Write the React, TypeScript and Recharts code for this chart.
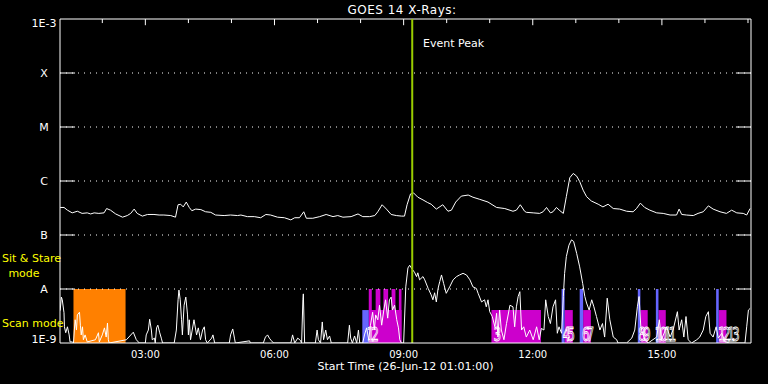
import {
  ComposedChart,
  Line,
  XAxis,
  YAxis,
  ReferenceLine,
  ReferenceArea,
  ReferenceDot,
} from "recharts";

const W = 768;
const H = 384;

// time axis in decimal hours, 26-Jun-12 01:01 .. ~17:04
const X_START = 1.017;
const X_END = 17.07;
const LABEL_TICKS = [3, 6, 9, 12, 15];
const HOUR_TICKS = [2, 4, 5, 7, 8, 10, 11, 13, 14, 16, 17];
const EVENT_PEAK = 9.2;

// flux axis in log10(W/m^2)
const LEVELS = [-9, -8, -7, -6, -5, -4, -3];
const LEVEL_NAMES: Record<number, string> = {
  [-9]: "1E-9",
  [-8]: "A",
  [-7]: "B",
  [-6]: "C",
  [-5]: "M",
  [-4]: "X",
  [-3]: "1E-3",
};
const GRID_LEVELS = [-8, -7, -6, -5, -4];

// 1-8 A channel [hour, log flux]
const LONG_CHANNEL: [number, number][] = [
  [1.02, -6.49], [1.11, -6.49], [1.19, -6.54], [1.3, -6.59], [1.42, -6.56], [1.53, -6.6],
  [1.65, -6.59], [1.73, -6.61], [1.81, -6.59], [1.92, -6.6], [2.04, -6.59], [2.1, -6.51],
  [2.19, -6.54], [2.31, -6.61], [2.47, -6.67], [2.58, -6.64], [2.66, -6.6], [2.74, -6.52],
  [2.81, -6.6], [2.93, -6.65], [3.05, -6.62], [3.2, -6.62], [3.32, -6.63], [3.43, -6.63],
  [3.59, -6.64], [3.7, -6.67], [3.76, -6.44], [3.82, -6.43], [3.88, -6.48], [3.95, -6.39],
  [4.02, -6.49], [4.08, -6.55], [4.17, -6.52], [4.29, -6.53], [4.4, -6.57], [4.52, -6.58],
  [4.63, -6.63], [4.83, -6.64], [4.98, -6.63], [5.14, -6.64], [5.22, -6.63], [5.37, -6.66],
  [5.53, -6.66], [5.68, -6.68], [5.8, -6.62], [5.91, -6.63], [6.07, -6.67], [6.23, -6.68],
  [6.38, -6.72], [6.47, -6.68], [6.58, -6.68], [6.68, -6.57], [6.74, -6.69], [6.89, -6.69],
  [7.05, -6.66], [7.2, -6.62], [7.36, -6.66], [7.47, -6.64], [7.59, -6.67], [7.78, -6.66],
  [7.94, -6.61], [8.05, -6.66], [8.21, -6.66], [8.33, -6.64], [8.4, -6.57], [8.5, -6.44],
  [8.6, -6.52], [8.71, -6.62], [8.83, -6.64], [8.95, -6.65], [9.02, -6.65], [9.08, -6.44],
  [9.16, -6.24], [9.23, -6.22], [9.33, -6.3], [9.45, -6.35], [9.56, -6.4], [9.64, -6.43],
  [9.76, -6.52], [9.91, -6.44], [10.03, -6.56], [10.11, -6.54], [10.21, -6.39], [10.34, -6.28],
  [10.5, -6.26], [10.61, -6.3], [10.77, -6.34], [10.96, -6.39], [11.16, -6.49], [11.35, -6.51],
  [11.54, -6.56], [11.62, -6.54], [11.71, -6.44], [11.81, -6.56], [11.85, -6.58], [12.01, -6.59],
  [12.16, -6.6], [12.24, -6.57], [12.32, -6.49], [12.41, -6.59], [12.47, -6.57], [12.55, -6.49],
  [12.63, -6.55], [12.71, -6.6], [12.78, -6.29], [12.86, -5.94], [12.94, -5.86], [13.02, -5.91],
  [13.09, -6.01], [13.17, -6.17], [13.25, -6.29], [13.36, -6.37], [13.52, -6.43], [13.63, -6.48],
  [13.75, -6.43], [13.87, -6.51], [14.02, -6.52], [14.18, -6.56], [14.33, -6.57], [14.41, -6.51],
  [14.5, -6.41], [14.6, -6.49], [14.72, -6.54], [14.88, -6.59], [15.03, -6.6], [15.19, -6.63],
  [15.34, -6.63], [15.4, -6.52], [15.46, -6.62], [15.57, -6.63], [15.73, -6.64], [15.84, -6.6],
  [15.96, -6.57], [16.08, -6.46], [16.19, -6.52], [16.35, -6.57], [16.5, -6.6], [16.62, -6.54],
  [16.74, -6.59], [16.89, -6.6], [16.97, -6.63], [17.05, -6.51],
];

// 0.5-4 A channel [hour, log flux], -9 = below the plot floor
const SHORT_CHANNEL: [number, number][] = [
  [1.02, -8.4], [1.05, -8.15], [1.07, -8.2], [1.11, -8.44], [1.12, -8.7], [1.15, -8.81],
  [1.19, -8.7], [1.23, -8.85], [1.25, -8.98], [1.3, -8.98], [1.33, -9], [1.35, -8.76],
  [1.37, -8.57], [1.4, -8.76], [1.42, -8.48], [1.47, -8.43], [1.49, -8.67], [1.51, -8.85],
  [1.54, -8.7], [1.56, -8.94], [1.6, -8.85], [1.65, -8.98], [1.84, -8.94], [1.91, -8.81],
  [1.93, -8.98], [2.0, -8.85], [2.05, -8.72], [2.09, -8.89], [2.12, -8.63], [2.14, -8.94],
  [2.16, -9], [2.56, -8.94], [2.72, -8.8], [2.79, -8.94], [2.86, -9], [3.0, -9],
  [3.02, -8.85], [3.07, -8.76], [3.1, -8.56], [3.14, -8.76], [3.16, -8.94], [3.21, -8.91],
  [3.23, -9], [3.26, -8.72], [3.29, -8.67], [3.33, -8.8], [3.37, -8.91], [3.4, -9],
  [3.67, -9], [3.72, -8.76], [3.76, -8.2], [3.78, -8.02], [3.81, -8.2], [3.84, -8.57],
  [3.86, -8.85], [3.9, -8.3], [3.94, -8.15], [3.98, -8.48], [4.0, -8.85], [4.02, -8.57],
  [4.05, -8.94], [4.13, -8.57], [4.19, -8.85], [4.23, -8.72], [4.28, -8.94], [4.33, -8.76],
  [4.37, -8.7], [4.4, -8.94], [4.44, -9], [4.54, -8.91], [4.57, -8.85], [4.61, -9],
  [4.95, -9], [4.98, -8.85], [5.03, -8.74], [5.07, -8.91], [5.09, -9], [5.42, -8.96],
  [5.44, -9], [5.74, -9], [5.79, -8.89], [5.84, -8.85], [5.88, -8.91], [5.93, -8.96],
  [5.98, -9], [6.38, -9], [6.42, -8.85], [6.47, -9], [6.54, -8.91], [6.6, -8.95],
  [6.63, -9], [6.66, -8.2], [6.67, -8.09], [6.7, -9], [6.95, -9], [6.99, -8.76],
  [7.02, -8.94], [7.07, -9], [7.11, -8.61], [7.14, -8.94], [7.19, -8.76], [7.23, -8.94],
  [7.28, -8.87], [7.32, -9], [7.7, -9], [7.74, -8.67], [7.77, -8.91], [7.81, -9],
  [7.86, -8.87], [7.91, -9], [7.95, -8.76], [7.98, -9], [8.05, -9], [8.09, -8.85],
  [8.14, -8.72], [8.19, -8.94], [8.23, -8.67], [8.28, -8.43], [8.32, -8.76], [8.35, -8.48],
  [8.4, -8.57], [8.44, -8.3], [8.49, -8.67], [8.54, -8.39], [8.58, -8.2], [8.63, -8.54],
  [8.67, -8.2], [8.71, -8.15], [8.74, -8.39], [8.79, -8.3], [8.84, -8.57], [8.88, -8.72],
  [8.91, -8.94], [8.95, -9], [9.0, -9], [9.05, -7.96], [9.1, -7.61], [9.14, -7.56],
  [9.18, -7.61], [9.26, -7.7], [9.3, -7.77], [9.33, -7.7], [9.37, -7.83], [9.45, -7.77],
  [9.49, -7.83], [9.57, -7.99], [9.64, -8.11], [9.68, -8.2], [9.72, -8.07], [9.76, -8.24],
  [9.8, -7.99], [9.84, -7.86], [9.88, -7.74], [9.93, -7.9], [9.99, -8.08], [10.07, -7.96],
  [10.15, -7.83], [10.23, -7.77], [10.3, -7.74], [10.38, -7.71], [10.46, -7.74], [10.54, -7.83],
  [10.61, -7.96], [10.69, -7.99], [10.73, -8.08], [10.81, -8.24], [10.88, -8.2], [10.92, -8.33],
  [10.96, -8.2], [11.0, -8.42], [11.06, -8.51], [11.12, -8.7], [11.16, -8.45], [11.19, -8.89],
  [11.23, -8.39], [11.27, -8.76], [11.33, -8.94], [11.39, -8.64], [11.47, -8.3], [11.54, -8.33],
  [11.58, -8.7], [11.62, -8.33], [11.66, -8.14], [11.7, -8.05], [11.74, -8.76], [11.79, -8.7],
  [11.85, -8.89], [11.93, -8.76], [12.01, -8.94], [12.09, -8.7], [12.15, -8.94], [12.2, -8.73],
  [12.26, -8.76], [12.3, -8.2], [12.36, -8.51], [12.41, -8.64], [12.47, -8.33], [12.53, -8.2],
  [12.57, -8.82], [12.61, -8.7], [12.67, -8.82], [12.71, -8.14], [12.74, -7.71], [12.78, -7.4],
  [12.84, -7.19], [12.9, -7.09], [12.95, -7.12], [13.02, -7.34], [13.09, -7.59], [13.16, -7.9],
  [13.21, -8.14], [13.25, -8.26], [13.31, -8.39], [13.37, -8.2], [13.42, -8.33], [13.48, -8.51],
  [13.56, -8.76], [13.62, -8.64], [13.67, -8.89], [13.73, -8.17], [13.79, -8.57], [13.87, -8.89],
  [13.95, -8.94], [13.98, -9], [14.18, -9], [14.3, -8.91], [14.37, -8.76], [14.43, -8.33],
  [14.47, -8.14], [14.51, -8.7], [14.55, -8.82], [14.61, -8.94], [14.68, -9], [14.88, -8.89],
  [14.94, -8.57], [14.99, -8.94], [15.11, -8.7], [15.19, -8.89], [15.26, -8.76], [15.36, -8.42],
  [15.4, -8.76], [15.46, -8.57], [15.51, -8.89], [15.56, -8.51], [15.61, -8.94], [15.69, -9],
  [15.81, -8.94], [15.88, -8.89], [15.96, -8.76], [16.02, -8.51], [16.08, -8.42], [16.12, -8.82],
  [16.19, -8.89], [16.26, -8.7], [16.31, -8.91], [16.39, -8.82], [16.47, -8.98], [16.58, -9],
  [16.93, -9], [16.97, -8.7], [17.01, -8.39], [17.05, -8.36],
];

// instrument mode blocks [start hour, end hour, top]
const ORANGE_BLOCKS: [number, number, number][] = [[1.33, 2.54, -8]];
const MAGENTA_BLOCKS: [number, number, number][] = [
  [8.19, 8.95, -8.39], [8.19, 8.26, -8], [8.35, 8.46, -8], [8.53, 8.64, -8],
  [8.72, 8.81, -8], [8.89, 8.95, -8], [11.04, 12.19, -8.39], [12.74, 12.93, -8.39],
  [13.17, 13.35, -8.39], [14.5, 14.67, -8.39], [14.92, 15.09, -8.39], [16.32, 16.5, -8.39],
];
const BLUE_BLOCKS: [number, number, number][] = [
  [8.04, 8.19, -8.39], [12.67, 12.74, -8], [13.09, 13.17, -8],
  [14.44, 14.5, -8], [14.86, 14.92, -8], [16.26, 16.32, -8],
];

// observation numbers, crowded pairs drawn squeezed together [hour, label]
const OBS_LABELS: [number, string][] = [
  [8.25, "12"], [11.14, "3"], [12.8, "45"], [13.25, "67"],
  [14.56, "89"], [15.05, "1011"], [16.52, "1213"],
];
const OBS_LABEL_LEVEL = -8.84;

const WHITE = "#ffffff";
const ORANGE = "#ff8000";
const MAGENTA = "#cc00cc";
const BLUE = "#6666ff";
const PEAK = "#99cc00";
const YELLOW = "#ffff00";

const longData = LONG_CHANNEL.map(([t, f]) => ({ t, f }));
const shortData = SHORT_CHANNEL.map(([t, f]) => ({ t, f }));

function LevelTick(props: any) {
  const { y, payload } = props;
  const v = payload.value;
  const shift = v === -3 ? 8 : v === -9 ? 0 : 4;
  return (
    <text x={44} y={y + shift} textAnchor="middle" fill={WHITE} fontSize={11}>
      {LEVEL_NAMES[v]}
    </text>
  );
}

function ObsLabel(props: any) {
  const { viewBox, value } = props;
  const cx = viewBox.x + (viewBox.width || 0) / 2;
  const cy = viewBox.y + (viewBox.height || 0) / 2;
  return (
    <text
      transform={`translate(${cx},${cy}) scale(0.6,1)`}
      textAnchor="middle"
      dominantBaseline="central"
      fontSize={20}
      letterSpacing={-5}
      fill="none"
      stroke={WHITE}
      strokeWidth={1}
    >
      {value}
    </text>
  );
}

const hourLabel = (h: number) => `${String(h).padStart(2, "0")}:00`;

export default function App() {
  const blocks = [
    ...ORANGE_BLOCKS.map((b) => [...b, ORANGE] as const),
    ...MAGENTA_BLOCKS.map((b) => [...b, MAGENTA] as const),
    ...BLUE_BLOCKS.map((b) => [...b, BLUE] as const),
  ];
  return (
    <div
      style={{
        position: "absolute",
        left: 0,
        top: 0,
        width: W,
        height: H,
        background: "#000",
        fontFamily: "'DejaVu Sans', sans-serif",
        overflow: "hidden",
      }}
    >
      <ComposedChart width={W} height={H} margin={{ top: 19, right: 17, bottom: 0, left: 0 }}>
        <XAxis
          dataKey="t"
          type="number"
          domain={[X_START, X_END]}
          allowDataOverflow
          ticks={LABEL_TICKS}
          tickFormatter={hourLabel}
          tickLine={false}
          axisLine={{ stroke: WHITE }}
          tick={{ fill: WHITE, fontSize: 10 }}
          height={41}
          label={{
            value: "Start Time (26-Jun-12 01:01:00)",
            position: "insideBottom",
            offset: 14,
            fill: WHITE,
            fontSize: 11,
          }}
        />
        <YAxis
          type="number"
          domain={[-9, -3]}
          allowDataOverflow
          ticks={LEVELS}
          width={60}
          tickLine={false}
          axisLine={{ stroke: WHITE }}
          tick={<LevelTick />}
        />

        {blocks.map(([x1, x2, top, color], i) => (
          <ReferenceArea
            key={`blk${i}`}
            x1={x1}
            x2={x2}
            y1={-9}
            y2={top}
            fill={color}
            fillOpacity={1}
            stroke="none"
          />
        ))}

        {GRID_LEVELS.map((v) => (
          <ReferenceLine key={`g${v}`} y={v} stroke={WHITE} strokeDasharray="1 5" />
        ))}
        {GRID_LEVELS.map((v) => (
          <ReferenceLine
            key={`tl${v}`}
            segment={[{ x: X_START, y: v }, { x: X_START + 0.35, y: v }]}
            stroke={WHITE}
          />
        ))}
        {GRID_LEVELS.map((v) => (
          <ReferenceLine
            key={`tr${v}`}
            segment={[{ x: X_END - 0.35, y: v }, { x: X_END, y: v }]}
            stroke={WHITE}
          />
        ))}
        {HOUR_TICKS.map((h) => (
          <ReferenceLine
            key={`th${h}`}
            segment={[{ x: h, y: -3 }, { x: h, y: -3.075 }]}
            stroke={WHITE}
          />
        ))}
        {LABEL_TICKS.map((h) => (
          <ReferenceLine
            key={`tm${h}`}
            segment={[{ x: h, y: -3 }, { x: h, y: -3.115 }]}
            stroke={WHITE}
          />
        ))}
        <ReferenceLine y={-3} stroke={WHITE} />
        <ReferenceLine x={X_END} stroke={WHITE} />

        <Line
          data={shortData}
          dataKey="f"
          type="linear"
          stroke={WHITE}
          strokeWidth={1}
          dot={false}
          isAnimationActive={false}
        />
        <Line
          data={longData}
          dataKey="f"
          type="linear"
          stroke={WHITE}
          strokeWidth={1}
          dot={false}
          isAnimationActive={false}
        />

        {OBS_LABELS.map(([h, txt], i) => (
          <ReferenceDot
            key={`o${i}`}
            x={h}
            y={OBS_LABEL_LEVEL}
            r={1}
            fill="none"
            stroke="none"
            label={(p: any) => <ObsLabel {...p} value={txt} />}
          />
        ))}

        <ReferenceLine x={EVENT_PEAK} stroke={PEAK} strokeWidth={2} />
      </ComposedChart>

      <svg
        width={W}
        height={H}
        style={{ position: "absolute", left: 0, top: 0, pointerEvents: "none" }}
      >
        <text x={402} y={13.5} textAnchor="middle" fill={WHITE} fontSize={12} letterSpacing={0.5}>
          GOES 14 X-Rays:
        </text>
        <text x={423} y={46.5} fill={WHITE} fontSize={11}>
          Event Peak
        </text>
        <text x={2} y={262} fill={YELLOW} fontSize={11}>
          Sit &amp; Stare
        </text>
        <text x={24} y={276.5} textAnchor="middle" fill={YELLOW} fontSize={11}>
          mode
        </text>
        <text x={2} y={327} fill={YELLOW} fontSize={11}>
          Scan mode
        </text>
      </svg>
    </div>
  );
}
